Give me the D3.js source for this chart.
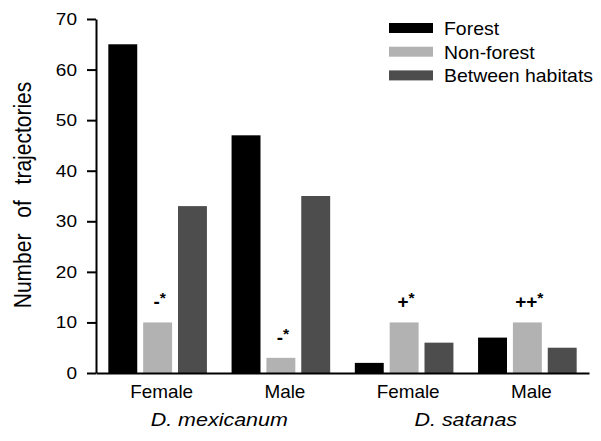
<!DOCTYPE html>
<html>
<head>
<meta charset="utf-8">
<script src="https://cdn.jsdelivr.net/npm/d3@7"></script>
<style>
  body { margin: 0; background: #fff; }
  text { font-family: Arial, "Liberation Sans", Helvetica, sans-serif; fill: #000; }
</style>
</head>
<body>
<svg id="chart" width="601" height="441"></svg>
<script>
// ---- data ----
const groups = ["mexF", "mexM", "satF", "satM"];
const groupLabels = ["Female", "Male", "Female", "Male"];
const species = ["D. mexicanum", "D. satanas"];
const speciesGroups = [["mexF", "mexM"], ["satF", "satM"]];
const seriesNames = ["Forest", "Non-forest", "Between habitats"];
const forest = [65, 47, 2, 7];
const nonForest = [10, 3, 10, 10];
const between = [33, 35, 6, 5];
const annotations = ["-", "-", "+", "++"];
const yTicks = [0, 10, 20, 30, 40, 50, 60, 70];
const colors = ["#000000", "#b2b2b2", "#4d4d4d"];

const seriesValues = [forest, nonForest, between];

// horizontal stretch of text glyphs around their anchor point
function stretch(sel, s) {
  sel.each(function () {
    const t = d3.select(this);
    const x = +t.attr("x") || 0;
    const y = +t.attr("y") || 0;
    const prev = t.attr("transform") || "";
    t.attr("x", 0).attr("y", 0)
     .attr("transform", `${prev} translate(${x},${y}) scale(${s},1)`);
  });
}

// ---- layout ----
const svg = d3.select("#chart");

const y = d3.scaleLinear().domain([0, 70]).range([373, 19]);
const x0 = d3.scaleBand().domain(groups).range([96, 589]).paddingInner(0.2).paddingOuter(0.1);
const x1 = d3.scaleBand().domain(seriesNames).range([0, x0.bandwidth()]).paddingInner(0.17);

// bars
const gBars = svg.append("g");
groups.forEach((g, gi) => {
  const gg = gBars.append("g").attr("transform", `translate(${x0(g)},0)`);
  gg.selectAll("rect")
    .data(seriesNames.map((s, si) => ({ s, v: seriesValues[si][gi], c: colors[si] })))
    .join("rect")
    .attr("x", d => x1(d.s))
    .attr("y", d => y(d.v))
    .attr("width", x1.bandwidth())
    .attr("height", d => y(0) - y(d.v))
    .attr("fill", d => d.c);
});

// annotations over Non-forest bars
groups.forEach((g, gi) => {
  const cx = x0(g) + x1("Non-forest") + x1.bandwidth() / 2;
  const t = svg.append("text")
    .attr("x", cx + 2)
    .attr("y", y(nonForest[gi]) - 14)
    .attr("text-anchor", "middle")
    .style("font-size", "18px")
    .style("font-weight", "bold");
  t.append("tspan").text(annotations[gi]);
  t.append("tspan").text("*").attr("dy", -5).style("font-size", "15px");
  stretch(t, 1.05);
});

// y axis
const yAxis = svg.append("g")
  .attr("transform", "translate(96,0)")
  .call(d3.axisLeft(y).tickValues(yTicks).tickSize(9).tickSizeOuter(0).tickPadding(10));
yAxis.select(".domain").attr("stroke", "#000").attr("stroke-width", 2);
yAxis.selectAll(".tick line").attr("stroke", "#000").attr("stroke-width", 2);
yAxis.selectAll(".tick text")
  .style("font-size", "17px")
  .style("font-family", "Arial, 'Liberation Sans', sans-serif")
  .attr("fill", "#000");
stretch(yAxis.selectAll(".tick text"), 1.12);

// x axis
const xAxis = svg.append("g")
  .attr("transform", "translate(0,373)")
  .call(d3.axisBottom(x0).tickSize(0).tickSizeOuter(0).tickPadding(13).tickFormat((d, i) => groupLabels[i]));
xAxis.select(".domain").attr("stroke", "#000").attr("stroke-width", 2);
xAxis.selectAll(".tick text")
  .attr("x", 4)
  .style("font-size", "17.5px")
  .style("font-family", "Arial, 'Liberation Sans', sans-serif")
  .attr("fill", "#000");
stretch(xAxis.selectAll(".tick text"), 1.08);

// species labels
species.forEach((sp, i) => {
  const [a, b] = speciesGroups[i];
  const cx = (x0(a) + x0(b) + x0.bandwidth()) / 2;
  const t = svg.append("text")
    .attr("x", cx)
    .attr("y", 426)
    .attr("text-anchor", "middle")
    .style("font-size", "19px")
    .style("font-style", "italic")
    .text(sp);
  stretch(t, 1.13);
});

// y axis title
svg.append("text")
  .attr("transform", "translate(31,195) rotate(-90) scale(1,1.1)")
  .attr("text-anchor", "middle")
  .style("font-size", "21px")
  .style("word-spacing", "10px")
  .text("Number of trajectories");

// legend
const legend = svg.append("g").attr("transform", "translate(389,23)");
seriesNames.forEach((s, i) => {
  const row = legend.append("g").attr("transform", `translate(0,${i * 23.7})`);
  row.append("rect").attr("x", 0).attr("y", 0).attr("width", 44).attr("height", 10).attr("fill", colors[i]);
  const t = row.append("text").attr("x", 55).attr("y", 12)
    .style("font-size", "18px")
    .text(s);
  stretch(t, 1.08);
});
</script>
</body>
</html>
